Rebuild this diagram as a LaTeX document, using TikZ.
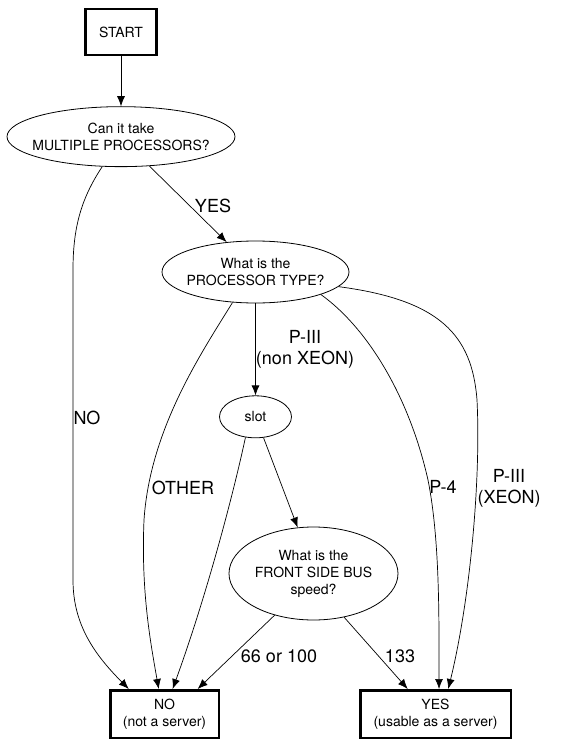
\documentclass[tikz,border=0pt]{standalone}
\usepackage{fontspec}
\setmainfont{TeX Gyre Heros}
\usetikzlibrary{arrows.meta,positioning,shapes.geometric}
\tikzset{
  termbox/.style={draw, line width=2.5pt, inner sep=0pt, align=center, font=\fontsize{14}{17}\selectfont},
  askbox/.style={draw, ellipse, line width=0.8pt, inner xsep=-20pt, inner ysep=0pt, align=center, font=\fontsize{14}{17}\selectfont},
  arr/.style={-{Latex[length=10pt,width=8pt]}, line width=0.7pt},
  lbl/.style={align=center, inner sep=0pt, font=\fontsize{18}{21}\selectfont}
}

\begin{document}
\begin{tikzpicture}[x=1pt, y=-1pt, node distance=50pt]
\useasboundingbox (0,0) rectangle (568,746);
\node[termbox, minimum width=71pt, minimum height=46pt] (start) at (121,32) {START};
\node[askbox, minimum width=228pt, minimum height=60pt, below=of start] (multi) {Can it take\\MULTIPLE PROCESSORS?};
\node[askbox, minimum width=187pt, minimum height=62pt] (ptype) at (255.5,272) {What is the\\PROCESSOR TYPE?};
\node[askbox, minimum width=72pt, minimum height=42pt, below=92pt of ptype] (slot) {slot};
\node[askbox, minimum width=169pt, minimum height=93pt] (fsb) at (313.5,573.5) {What is the\\FRONT SIDE BUS\\speed?};
\node[termbox, minimum width=108.5pt, minimum height=47.5pt] (no) at (164.5,714) {NO\\(not a server)};
\node[termbox, minimum width=150.5pt, minimum height=47.5pt] (yes) at (435.5,714) {YES\\(usable as a server)};
\draw[arr] (start) -- (multi);
\draw[arr] (multi.238) .. controls (80,200) and (73,230) .. (73,270) -- (73,580) .. controls (73,625) and (95,655) .. (no.145) node[lbl] at (87,418) {NO};
\draw[arr] (multi.314) -- (ptype.134) node[lbl] at (213,206) {YES};
\draw[arr] (ptype) -- (slot) node[lbl] at (305,349) {P-III\\(non XEON)};
\draw[arr] (ptype.233) .. controls (200,355) and (150,430) .. (144,520) .. controls (141,590) and (150,640) .. (no.103) node[lbl] at (183,488) {OTHER};
\draw[arr] (ptype.341) .. controls (370,330) and (410,400) .. (428,480) .. controls (440,540) and (439,620) .. (yes.82) node[lbl] at (443,487) {P-4};
\draw[arr] (ptype.350) .. controls (440,300) and (472,335) .. (477,400) .. controls (481,480) and (470,600) .. (yes.63) node[lbl] at (509,488) {P-III\\(XEON)};
\draw[arr] (slot.244) .. controls (232,500) and (205,600) .. (no.72);
\draw[arr] (slot.291) -- (fsb.109);
\draw[arr] (fsb.227) -- (no.37) node[lbl] at (279,656) {66 or 100};
\draw[arr] (fsb.305) -- (yes.138) node[lbl] at (400,656) {133};
\end{tikzpicture}
\end{document}
